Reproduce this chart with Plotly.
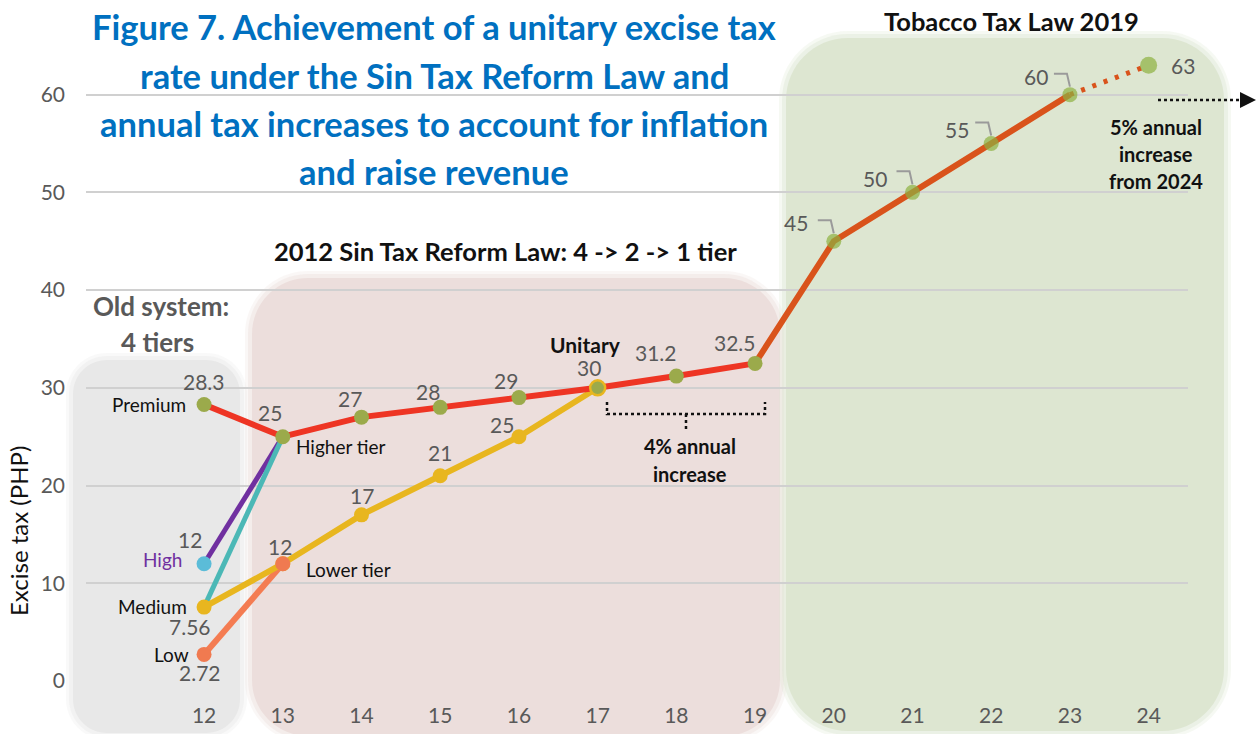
import plotly.graph_objects as go

# ---------------- data ----------------
years = list(range(12, 25))
x_reform = [12, 13, 14, 15, 16, 17, 18, 19]
higher_tier = [28.3, 25, 27, 28, 29, 30, 31.2, 32.5]
x_ttl = [19, 20, 21, 22, 23]
ttl_rates = [32.5, 45, 50, 55, 60]
x_proj = [23, 24]
proj_rates = [60, 63]
x_pair = [12, 13]
high = [12, 25]
medium = [7.56, 25]
low = [2.72, 12]
x_lower = [12, 13, 14, 15, 16, 17]
lower_tier = [7.56, 12, 17, 21, 25, 30]
y_ticks = [0, 10, 20, 30, 40, 50, 60]

FONT = "Lato, Carlito, 'Open Sans', sans-serif"
GRAY_TXT = "#595959"
RED = "#EE3524"
ORANGE = "#D9531B"
GOLD = "#E8B61F"
OLIVE = "#9BAA4B"
GREEN = "#8DB040"

# ---------------- layout geometry ----------------
W, H = 1258, 734
L, R, T, B = 86, 70, 36, 53
PW, PH = W - L - R, H - T - B


def pxx(p):
    return (p - L) / PW


def pxy(p):
    return (H - B - p) / PH


def P(x, y):
    return f"{pxx(x):.5f},{pxy(y):.5f}"


def rrect(x0, y0, x1, y1, r):
    k = 0.5523 * r
    return (f"M {P(x0 + r, y0)} L {P(x1 - r, y0)} "
            f"C {P(x1 - r + k, y0)} {P(x1, y0 + r - k)} {P(x1, y0 + r)} "
            f"L {P(x1, y1 - r)} "
            f"C {P(x1, y1 - r + k)} {P(x1 - r + k, y1)} {P(x1 - r, y1)} "
            f"L {P(x0 + r, y1)} "
            f"C {P(x0 + r - k, y1)} {P(x0, y1 - r + k)} {P(x0, y1 - r)} "
            f"L {P(x0, y0 + r)} "
            f"C {P(x0, y0 + r - k)} {P(x0 + r - k, y0)} {P(x0 + r, y0)} Z")


fig = go.Figure()
NOLINE = dict(width=0)

# ---------------- lines ----------------
fig.add_trace(go.Scatter(x=x_pair, y=high, mode="lines",
                         line=dict(color="#7030A0", width=5), hoverinfo="skip"))
fig.add_trace(go.Scatter(x=x_pair, y=medium, mode="lines",
                         line=dict(color="#4BB8B6", width=5), hoverinfo="skip"))
fig.add_trace(go.Scatter(x=x_pair, y=low, mode="lines",
                         line=dict(color="#F47C52", width=6), hoverinfo="skip"))
fig.add_trace(go.Scatter(x=x_lower, y=lower_tier, mode="lines+markers",
                         line=dict(color=GOLD, width=6),
                         marker=dict(color=GOLD, size=15, line=NOLINE), cliponaxis=False))
fig.add_trace(go.Scatter(x=x_reform, y=higher_tier, mode="lines",
                         line=dict(color=RED, width=6)))
fig.add_trace(go.Scatter(x=x_ttl, y=ttl_rates, mode="lines",
                         line=dict(color=ORANGE, width=6)))
fig.add_trace(go.Scatter(x=x_proj, y=proj_rates, mode="lines",
                         line=dict(color=ORANGE, width=5, dash="4px,8px")))

# ---------------- markers ----------------
fig.add_trace(go.Scatter(x=x_pair[:1], y=high[:1], mode="markers",
                         marker=dict(color="#5BBCD8", size=15, line=NOLINE), cliponaxis=False))
fig.add_trace(go.Scatter(x=x_pair, y=low, mode="markers",
                         marker=dict(color="#F07A50", size=15, line=NOLINE), cliponaxis=False))
fig.add_trace(go.Scatter(x=x_reform, y=higher_tier, mode="markers",
                         marker=dict(color=OLIVE, size=15,
                                     line=dict(color=GOLD,
                                               width=[2.5 if v == 17 else 0 for v in x_reform])),
                         cliponaxis=False))
fig.add_trace(go.Scatter(x=x_ttl[1:] + x_proj[1:], y=ttl_rates[1:] + proj_rates[1:], mode="markers",
                         marker=dict(color=GREEN, size=[15, 15, 15, 15, 17], line=NOLINE),
                         cliponaxis=False))

# ---------------- shaded regions ----------------
shapes = []
regions = [
    ((73, 360, 240, 733, 34), (232, 232, 232)),
    ((252, 278, 780, 736, 56), (236, 222, 220)),
    ((786, 38, 1224, 731, 62), (221, 230, 209)),
]
for (x0, y0, x1, y1, r), (cr, cg, cb) in regions:
    for e, a in [(7, 0.25), (4, 0.4), (0, 1.0)]:
        shapes.append(dict(type="path", xref="paper", yref="paper", layer="below",
                           path=rrect(x0 - e, y0 - e, x1 + e, y1 + e, r + e),
                           fillcolor=f"rgba({cr},{cg},{cb},{a})", line=dict(width=0)))

# leader lines for the 2019 law labels (anchored at data points, pixel offsets)
for xv, yv in zip(x_ttl[1:], ttl_rates[1:]):
    shapes.append(dict(type="path", xref="x", yref="y", xsizemode="pixel", ysizemode="pixel",
                       xanchor=xv, yanchor=yv, path="M -16,21 L -3,21 L 0,8",
                       line=dict(color="#9A9A9A", width=2), layer="above"))

# bracket for 4% annual increase
shapes.append(dict(type="path", xref="paper", yref="paper",
                   path=f"M {P(607, 402)} L {P(607, 414)} L {P(765, 414)} L {P(765, 402)}",
                   line=dict(color="#111111", width=2.5, dash="dot")))
shapes.append(dict(type="path", xref="paper", yref="paper",
                   path=f"M {P(686, 414)} L {P(686, 429)}",
                   line=dict(color="#111111", width=2.5, dash="dot")))
# dotted arrow top right
shapes.append(dict(type="line", xref="paper", yref="paper",
                   x0=pxx(1158), y0=pxy(100), x1=pxx(1242), y1=pxy(100),
                   line=dict(color="#111111", width=2.5, dash="dot")))
shapes.append(dict(type="path", xref="paper", yref="paper",
                   path=f"M {P(1240, 92)} L {P(1256, 100)} L {P(1240, 108)} Z",
                   fillcolor="#111111", line=dict(width=0)))

# ---------------- annotations ----------------
ann = []
NUM = 21
LAB = 19


def dlab(x, y, text, dx=0, dy=0, anchor="center", color=GRAY_TXT, size=NUM, bold=False):
    t = f"<b>{text}</b>" if bold else text
    ann.append(dict(x=x, y=y, xref="x", yref="y", text=t, showarrow=False,
                    xanchor=anchor, yanchor="middle", xshift=dx, yshift=dy,
                    font=dict(family=FONT, size=size, color=color)))


def plab(px, py, text, size, color="#111111", bold=True, anchor="center", angle=0):
    t = f"<b>{text}</b>" if bold else text
    ann.append(dict(x=pxx(px), y=pxy(py), xref="paper", yref="paper", text=t,
                    showarrow=False, xanchor=anchor, yanchor="middle", textangle=angle,
                    font=dict(family=FONT, size=size, color=color)))


# red / higher-tier line labels
offsets_red = [(0, 23), (-13, 24), (-12, 19), (-12, 16), (-13, 17), (-9, 20), (-20, 24), (-20, 21)]
for xv, yv, (dx, dy) in zip(x_reform, higher_tier, offsets_red):
    dlab(xv, yv, f"{yv:g}", dx, dy)
dlab(x_reform[0], higher_tier[0], "Premium", -16, 0, "right", "#111111", LAB)
dlab(x_reform[1], higher_tier[1], "Higher tier", 11, -10, "left", "#111111", LAB)
dlab(x_reform[5], higher_tier[5], "Unitary", -12, 43, "center", "#111111", 21, True)

# lower-tier labels
offsets_gold = {13: (-3, 17), 14: (0, 19), 15: (0, 23), 16: (-17, 12)}
for xv, yv in zip(x_lower, lower_tier):
    if xv in offsets_gold:
        dx, dy = offsets_gold[xv]
        dlab(xv, yv, f"{yv:g}", dx, dy)
dlab(x_lower[1], lower_tier[1], "Lower tier", 21, -6, "left", "#111111", LAB)

# old system labels
dlab(x_pair[0], high[0], f"{high[0]:g}", -14, 24)
dlab(x_pair[0], high[0], "High", -20, 4, "right", "#7030A0", LAB)
dlab(x_pair[0], medium[0], "Medium", -15, 1, "right", "#111111", LAB)
dlab(x_pair[0], medium[0], f"{medium[0]:g}", -14, -19)
dlab(x_pair[0], low[0], "Low", -13, 0, "right", "#111111", LAB)
dlab(x_pair[0], low[0], f"{low[0]:g}", -4, -18)

# 2019 law labels
for xv, yv, (dx, dy) in zip(x_ttl[1:], ttl_rates[1:], [(-38, 19), (-38, 14), (-34, 14), (-34, 18)]):
    dlab(xv, yv, f"{yv:g}", dx, dy)
dlab(x_proj[1], proj_rates[1], f"{proj_rates[1]:g}", 34, 0)

# titles / headings
title_lines = ["Figure 7. Achievement of a unitary excise tax",
               "rate under the Sin Tax Reform Law and",
               "annual tax increases to account for inflation",
               "and raise revenue"]
for i, line in enumerate(title_lines):
    plab(434, 27 + 48 * i, line, 34.5, "#0070C0")
plab(161, 306, "Old system:", 26, GRAY_TXT)
plab(157, 342, "4 tiers", 26, GRAY_TXT)
plab(505, 251, "2012 Sin Tax Reform Law: 4 -> 2 -> 1 tier", 25.5)
plab(1011, 21, "Tobacco Tax Law 2019", 25.5)
plab(690, 446, "4% annual", 20)
plab(690, 474, "increase", 20)
plab(1156, 127, "5% annual", 20)
plab(1156, 154, "increase", 20)
plab(1156, 181, "from 2024", 20)
plab(18, 531, "Excise tax (PHP)", 24, "#111111", bold=False, angle=-90)

fig.update_layout(
    width=W, height=H,
    margin=dict(l=L, r=R, t=T, b=B, autoexpand=False),
    paper_bgcolor="white", plot_bgcolor="rgba(0,0,0,0)",
    showlegend=False,
    shapes=shapes, annotations=ann,
    font=dict(family=FONT),
    xaxis=dict(range=[10.5, 24.5], tickvals=years, ticktext=[str(v) for v in years],
               showgrid=False, zeroline=False, showline=False, ticks="",
               tickfont=dict(family=FONT, size=21, color=GRAY_TXT), ticklabelstandoff=20),
    yaxis=dict(range=[0, 66], tickvals=y_ticks, showgrid=True, gridcolor="#D0D0D0", gridwidth=2,
               zeroline=False, showline=False, ticks="",
               tickfont=dict(family=FONT, size=21, color=GRAY_TXT), ticklabelstandoff=20),
)

fig.write_html("out.html", config={"displayModeBar": False},
               post_script="document.body.style.margin='0';document.body.style.overflow='hidden';")
